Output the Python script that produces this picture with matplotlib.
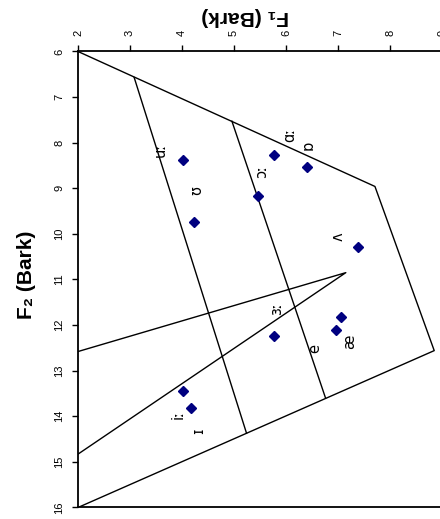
import matplotlib
matplotlib.use("Agg")
import matplotlib.pyplot as plt

# measured vowel formants (Bark)
vowel_f1 = [4.01, 4.24, 5.76, 6.41, 5.47, 7.39, 7.06, 6.96, 5.76, 4.01, 4.17]
vowel_f2 = [8.39, 9.73, 8.27, 8.54, 9.16, 10.29, 11.83, 12.11, 12.24, 13.44, 13.82]

# IPA symbols and where they are written
ipa_symbols = ["uː", "ʊ", "ɑː", "ɒ", "ɔː", "ʌ", "ɜː", "e", "æ", "iː", "ɪ"]
ipa_f1 = [3.58, 4.29, 6.08, 6.43, 5.53, 7.00, 5.82, 6.56, 7.22, 3.93, 4.31]
ipa_f2 = [8.16, 9.04, 7.83, 8.05, 8.64, 10.06, 11.63, 12.51, 12.36, 13.97, 14.32]

# vowel space outline and region boundaries
outline_f1 = [2.0, 7.71, 8.85, 2.0]
outline_f2 = [6.0, 8.96, 12.56, 16.0]
close_mid_f1 = [3.08, 5.24]
close_mid_f2 = [6.57, 14.37]
open_mid_f1 = [4.96, 6.76]
open_mid_f2 = [7.53, 13.60]
wedge_f1 = [2.0, 7.15, 2.0]
wedge_f2 = [12.58, 10.85, 14.83]

f1_ticks = [2, 3, 4, 5, 6, 7, 8, 9]
f2_ticks = [6, 7, 8, 9, 10, 11, 12, 13, 14, 15, 16]

sans = ["Liberation Sans", "DejaVu Sans"]

fig = plt.figure(figsize=(4.40, 5.19), dpi=100)
ax = fig.add_axes([0.1773, 0.0222, 0.8273, 0.8786])

ax.plot(outline_f1, outline_f2, color="black", lw=1.0)
ax.plot(close_mid_f1, close_mid_f2, color="black", lw=1.0)
ax.plot(open_mid_f1, open_mid_f2, color="black", lw=1.0)
ax.plot(wedge_f1, wedge_f2, color="black", lw=1.0)

ax.plot(vowel_f1, vowel_f2, ls="none", marker="D", ms=4.8,
        color="#000080", mec="#000080")

for s, x, y in zip(ipa_symbols, ipa_f1, ipa_f2):
    ax.text(x, y, s, rotation=90, ha="center", va="center",
            fontsize=10.5, family=["DejaVu Sans"])

ax.set_xlim(2, 9)
ax.set_ylim(16, 6)
ax.set_xticks(f1_ticks)
ax.set_yticks(f2_ticks)
ax.xaxis.tick_top()
ax.tick_params(axis="x", direction="out", length=4, width=1, pad=7,
               labelsize=8, labelrotation=90)
ax.tick_params(axis="y", direction="out", length=4, width=1, pad=6,
               labelsize=8, labelrotation=90)
for lab in ax.get_xticklabels() + ax.get_yticklabels():
    lab.set_family(sans)
for lab in ax.get_yticklabels():
    lab.set_va("center")
for side in ["top", "left", "bottom", "right"]:
    ax.spines[side].set_linewidth(1.3)

fig.text(0.557, 0.969, "F₁ (Bark)", rotation=180, ha="center", va="center",
         fontsize=15, fontweight="bold", family=sans)
fig.text(0.061, 0.470, "F₂ (Bark)", rotation=90, ha="center", va="center",
         fontsize=15, fontweight="bold", family=sans)

fig.savefig("out.png", dpi=100)
